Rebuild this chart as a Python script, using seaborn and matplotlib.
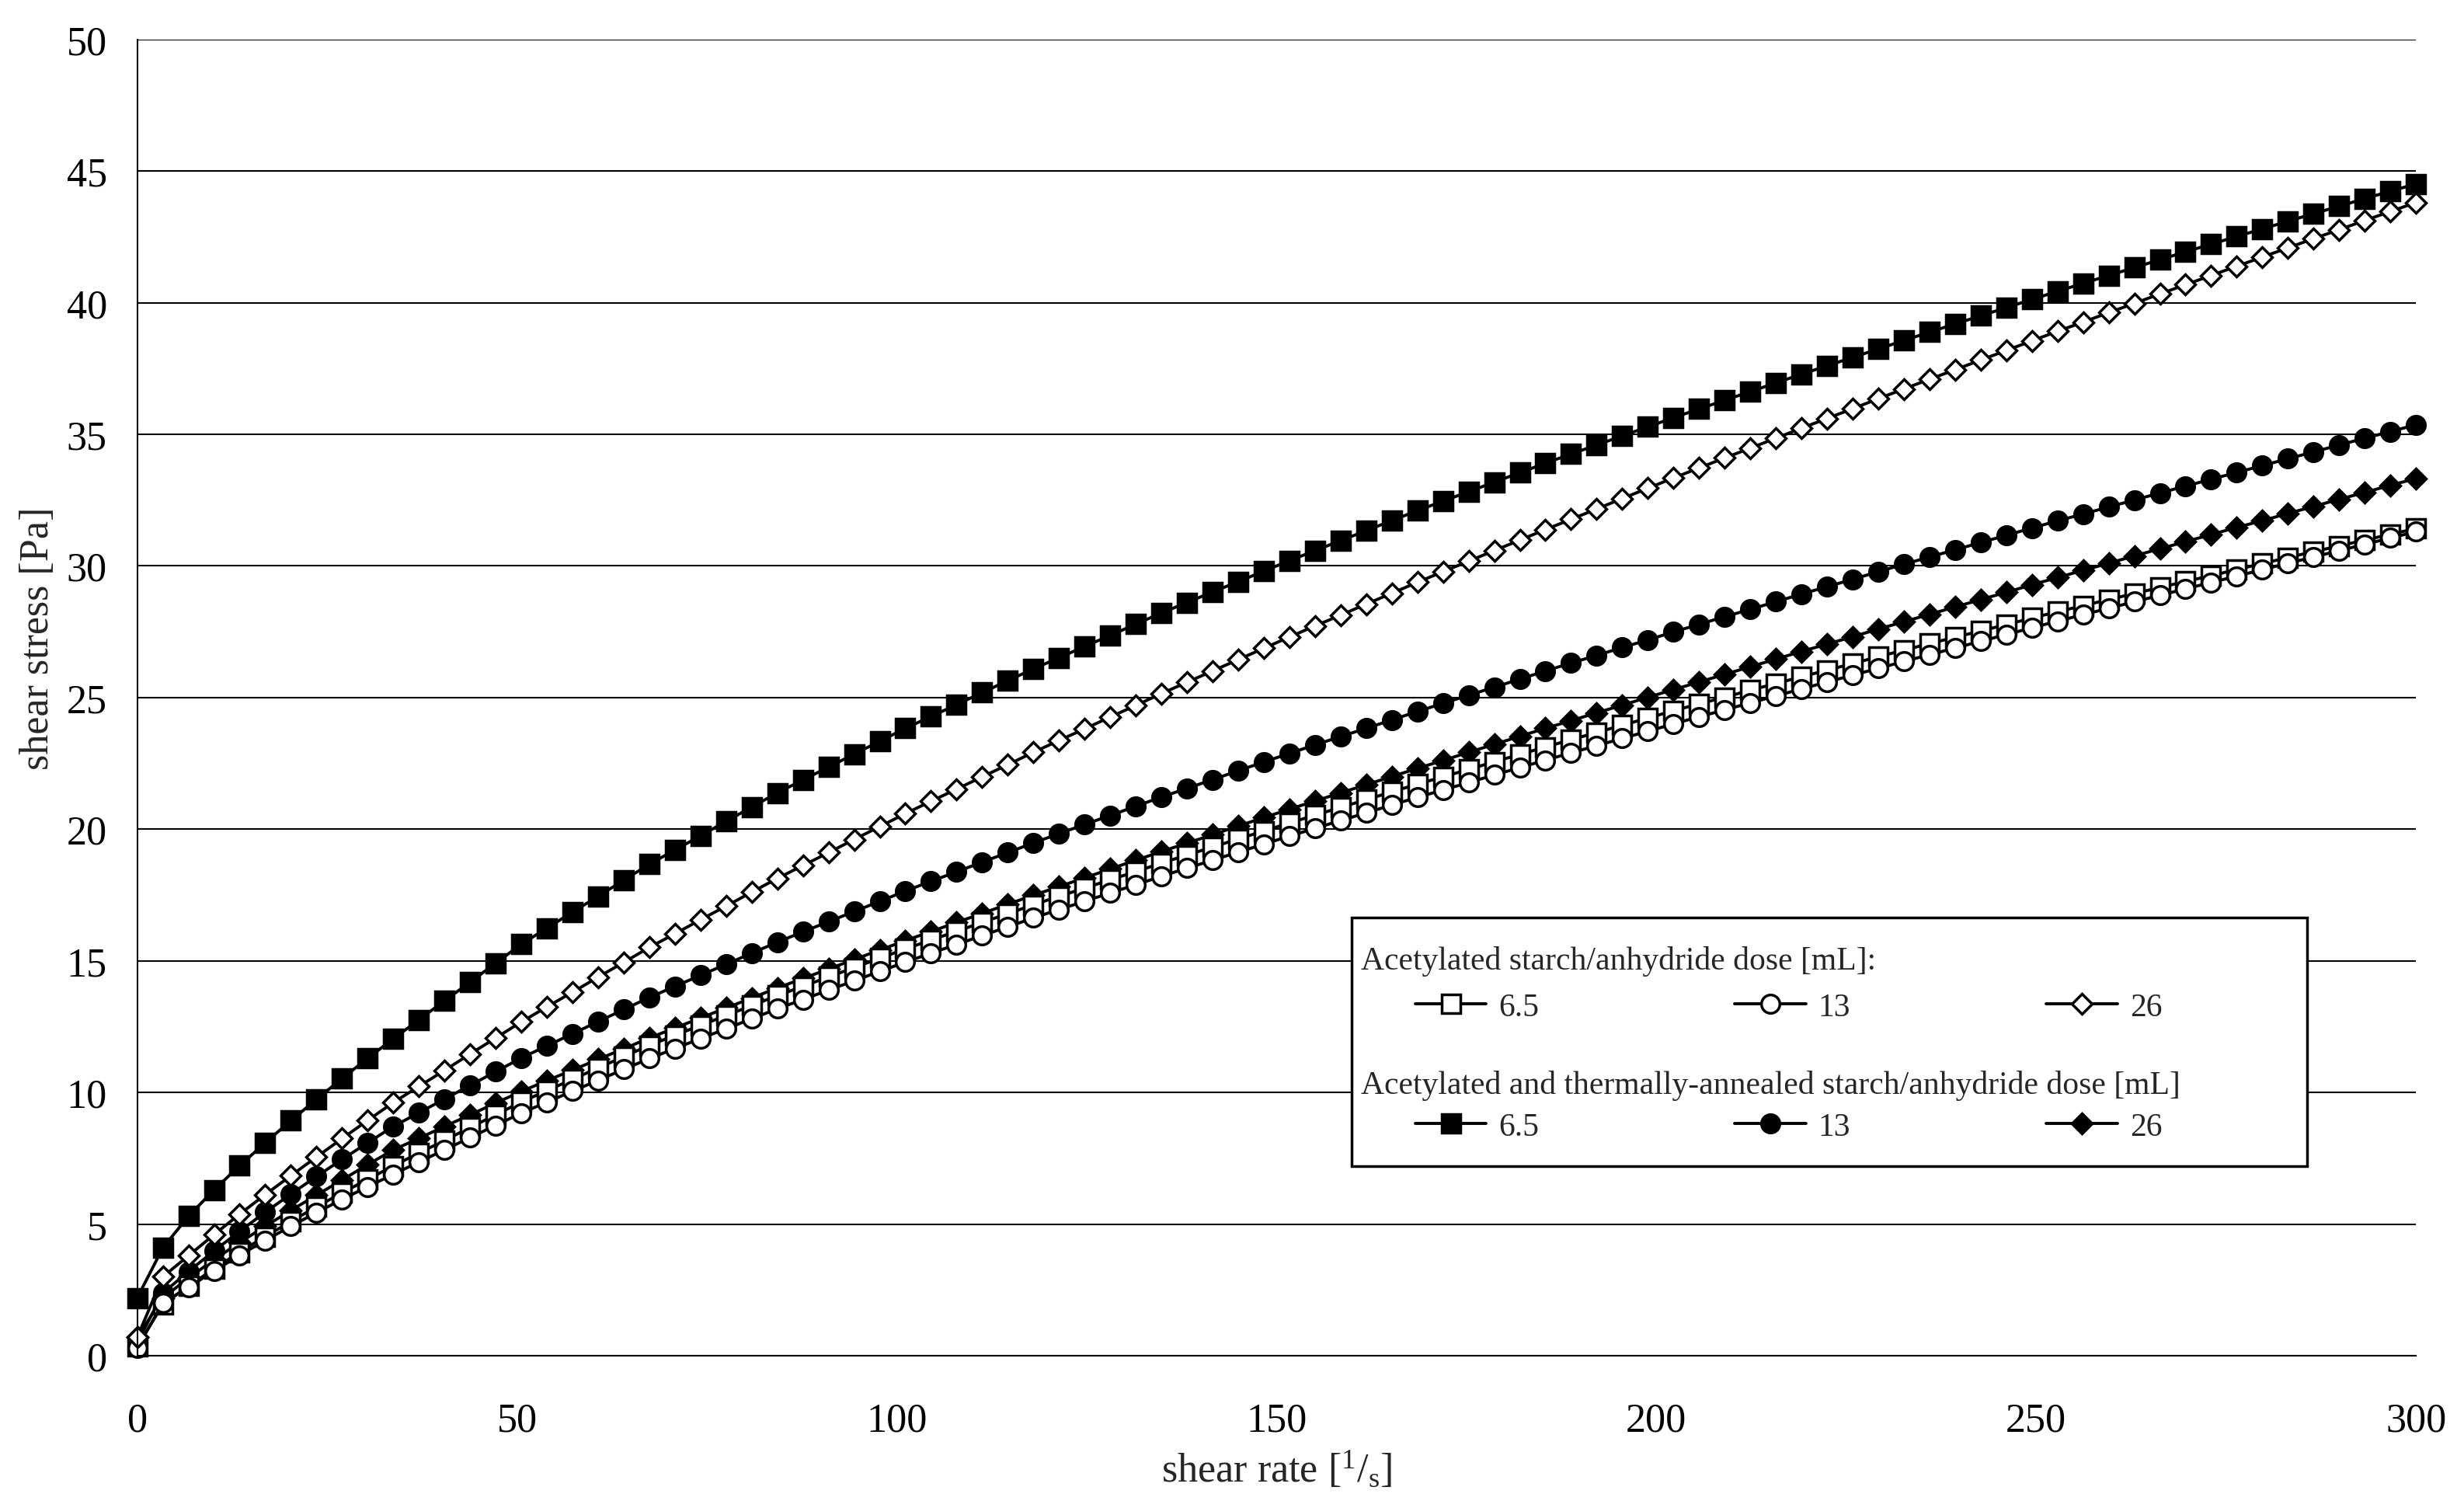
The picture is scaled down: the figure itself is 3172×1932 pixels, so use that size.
import numpy as np
import pandas as pd
import matplotlib
matplotlib.use("Agg")
import matplotlib.pyplot as plt
import seaborn as sns
from matplotlib.patches import Rectangle

# shear rate grid [1/s]
shear_rate = [0.00, 3.37, 6.74, 10.11, 13.48, 16.85, 20.22, 23.60, 26.97, 30.34,
              33.71, 37.08, 40.45, 43.82, 47.19, 50.56, 53.93, 57.30, 60.67, 64.04,
              67.42, 70.79, 74.16, 77.53, 80.90, 84.27, 87.64, 91.01, 94.38, 97.75,
              101.12, 104.49, 107.87, 111.24, 114.61, 117.98, 121.35, 124.72, 128.09, 131.46,
              134.83, 138.20, 141.57, 144.94, 148.31, 151.69, 155.06, 158.43, 161.80, 165.17,
              168.54, 171.91, 175.28, 178.65, 182.02, 185.39, 188.76, 192.13, 195.51, 198.88,
              202.25, 205.62, 208.99, 212.36, 215.73, 219.10, 222.47, 225.84, 229.21, 232.58,
              235.96, 239.33, 242.70, 246.07, 249.44, 252.81, 256.18, 259.55, 262.92, 266.29,
              269.66, 273.03, 276.40, 279.78, 283.15, 286.52, 289.89, 293.26, 296.63, 300.00]

# acetylated starch, anhydride dose 6.5 / 13 / 26 mL
acet_65 = [0.35, 1.95, 2.65, 3.30, 3.94, 4.53, 5.10, 5.66, 6.19, 6.70,
           7.21, 7.70, 8.18, 8.67, 9.15, 9.64, 10.07, 10.50, 10.93, 11.36,
           11.79, 12.17, 12.55, 12.92, 13.30, 13.68, 14.03, 14.39, 14.74, 15.10,
           15.45, 15.79, 16.12, 16.46, 16.79, 17.13, 17.45, 17.76, 18.08, 18.39,
           18.71, 19.02, 19.32, 19.63, 19.93, 20.24, 20.53, 20.83, 21.12, 21.42,
           21.71, 21.99, 22.27, 22.56, 22.84, 23.12, 23.40, 23.67, 23.95, 24.22,
           24.50, 24.76, 25.01, 25.28, 25.53, 25.79, 26.04, 26.29, 26.55, 26.80,
           27.05, 27.29, 27.53, 27.77, 28.02, 28.26, 28.49, 28.72, 28.95, 29.18,
           29.41, 29.63, 29.86, 30.09, 30.32, 30.54, 30.76, 30.98, 31.20, 31.42]
acet_13 = [0.30, 2.00, 2.60, 3.22, 3.82, 4.38, 4.92, 5.44, 5.94, 6.42,
           6.89, 7.36, 7.82, 8.29, 8.75, 9.22, 9.63, 10.05, 10.46, 10.88,
           11.29, 11.67, 12.05, 12.42, 12.80, 13.18, 13.53, 13.89, 14.24, 14.60,
           14.95, 15.29, 15.62, 15.96, 16.29, 16.63, 16.95, 17.26, 17.58, 17.89,
           18.21, 18.52, 18.82, 19.13, 19.43, 19.74, 20.03, 20.33, 20.62, 20.92,
           21.21, 21.49, 21.77, 22.06, 22.34, 22.62, 22.90, 23.17, 23.45, 23.72,
           24.00, 24.27, 24.53, 24.80, 25.06, 25.33, 25.59, 25.85, 26.11, 26.37,
           26.63, 26.88, 27.14, 27.39, 27.65, 27.90, 28.15, 28.39, 28.64, 28.88,
           29.13, 29.37, 29.61, 29.86, 30.10, 30.34, 30.58, 30.82, 31.06, 31.30]
acet_26 = [0.70, 3.00, 3.80, 4.60, 5.38, 6.12, 6.84, 7.55, 8.25, 8.94,
           9.62, 10.23, 10.84, 11.46, 12.07, 12.68, 13.25, 13.81, 14.38, 14.94,
           15.51, 16.03, 16.56, 17.08, 17.61, 18.13, 18.62, 19.11, 19.61, 20.10,
           20.59, 21.06, 21.52, 21.99, 22.45, 22.92, 23.37, 23.81, 24.26, 24.70,
           25.15, 25.58, 26.01, 26.44, 26.87, 27.30, 27.72, 28.13, 28.55, 28.96,
           29.38, 29.78, 30.18, 30.58, 30.98, 31.38, 31.77, 32.16, 32.56, 32.95,
           33.34, 33.72, 34.10, 34.47, 34.85, 35.23, 35.60, 35.97, 36.35, 36.72,
           37.09, 37.45, 37.82, 38.18, 38.55, 38.91, 39.26, 39.62, 39.97, 40.33,
           40.68, 41.03, 41.38, 41.73, 42.08, 42.43, 42.77, 43.12, 43.46, 43.80]

# acetylated and thermally-annealed starch, anhydride dose 6.5 / 13 / 26 mL
ann_65 = [2.20, 4.10, 5.30, 6.30, 7.22, 8.09, 8.93, 9.74, 10.53, 11.30,
          12.04, 12.76, 13.48, 14.19, 14.91, 15.63, 16.24, 16.85, 17.45, 18.06,
          18.67, 19.21, 19.75, 20.30, 20.84, 21.38, 21.87, 22.36, 22.85, 23.34,
          23.83, 24.28, 24.73, 25.19, 25.64, 26.09, 26.51, 26.94, 27.36, 27.79,
          28.21, 28.61, 29.01, 29.40, 29.80, 30.20, 30.58, 30.96, 31.34, 31.72,
          32.10, 32.46, 32.82, 33.18, 33.54, 33.90, 34.25, 34.59, 34.94, 35.28,
          35.63, 35.96, 36.29, 36.62, 36.95, 37.28, 37.60, 37.92, 38.24, 38.56,
          38.88, 39.19, 39.50, 39.81, 40.12, 40.43, 40.73, 41.03, 41.33, 41.63,
          41.93, 42.22, 42.51, 42.80, 43.09, 43.38, 43.66, 43.95, 44.23, 44.51]
ann_13 = [0.50, 2.38, 3.20, 3.98, 4.73, 5.45, 6.14, 6.81, 7.46, 8.09,
          8.71, 9.23, 9.75, 10.27, 10.79, 11.31, 11.77, 12.23, 12.69, 13.15,
          13.61, 14.03, 14.45, 14.87, 15.29, 15.71, 16.10, 16.49, 16.87, 17.26,
          17.65, 18.02, 18.38, 18.75, 19.11, 19.48, 19.83, 20.18, 20.52, 20.87,
          21.22, 21.55, 21.88, 22.22, 22.55, 22.88, 23.20, 23.52, 23.83, 24.15,
          24.47, 24.78, 25.09, 25.39, 25.70, 26.01, 26.31, 26.60, 26.90, 27.19,
          27.49, 27.78, 28.07, 28.35, 28.64, 28.93, 29.21, 29.49, 29.78, 30.06,
          30.34, 30.61, 30.89, 31.16, 31.44, 31.71, 31.97, 32.24, 32.50, 32.77,
          33.03, 33.29, 33.55, 33.81, 34.07, 34.33, 34.59, 34.85, 35.10, 35.36]
ann_26 = [0.70, 2.20, 2.95, 3.65, 4.30, 4.92, 5.52, 6.10, 6.68, 7.26,
          7.82, 8.26, 8.71, 9.15, 9.60, 10.04, 10.45, 10.85, 11.26, 11.66,
          12.07, 12.45, 12.83, 13.21, 13.59, 13.97, 14.33, 14.69, 15.05, 15.41,
          15.77, 16.11, 16.46, 16.80, 17.15, 17.49, 17.82, 18.15, 18.49, 18.82,
          19.15, 19.47, 19.79, 20.12, 20.44, 20.76, 21.07, 21.38, 21.69, 22.00,
          22.31, 22.61, 22.92, 23.22, 23.53, 23.83, 24.12, 24.42, 24.71, 25.01,
          25.30, 25.59, 25.88, 26.17, 26.46, 26.75, 27.03, 27.31, 27.60, 27.88,
          28.16, 28.44, 28.72, 29.00, 29.28, 29.56, 29.83, 30.10, 30.38, 30.65,
          30.92, 31.19, 31.46, 31.72, 31.99, 32.26, 32.53, 32.79, 33.06, 33.32]

dose_labels = ["6.5", "13", "26"]
title_acet = "Acetylated starch/anhydride dose [mL]:"
title_ann = "Acetylated and thermally-annealed starch/anhydride dose [mL]"

dados = pd.DataFrame({"shear_rate": shear_rate,
                      "acet_65": acet_65, "acet_13": acet_13, "acet_26": acet_26,
                      "ann_65": ann_65, "ann_13": ann_13, "ann_26": ann_26})

sns.set_style("white")
plt.rcParams["font.family"] = ["Liberation Serif", "DejaVu Serif"]
plt.rcParams["mathtext.fontset"] = "custom"
plt.rcParams["mathtext.rm"] = "Liberation Serif"
plt.rcParams["mathtext.it"] = "Liberation Serif:italic"

fig = plt.figure(figsize=(31.72, 19.33), dpi=100)
ax = fig.add_axes([0.0557, 0.0967, 0.9248, 0.8766])

# (column, marker, face colour, marker size) in drawing order
estilos = [("ann_65", "s", "black", 17),
           ("ann_13", "o", "black", 17),
           ("ann_26", "D", "black", 13),
           ("acet_65", "s", "white", 17),
           ("acet_13", "o", "white", 17),
           ("acet_26", "D", "white", 13)]

linhas = {}
for coluna, marcador, face, tamanho in estilos:
    sns.lineplot(data=dados, x="shear_rate", y=coluna, ax=ax,
                 estimator=None, sort=False, color="black", linewidth=2.8,
                 marker=marcador, markersize=tamanho, markerfacecolor=face,
                 markeredgecolor="black", markeredgewidth=2.5, clip_on=False)
    linhas[coluna] = ax.lines[-1]

ax.set_xlim(0, 300)
ax.set_ylim(0, 50)
ax.set_xticks(range(0, 301, 50))
ax.set_yticks(range(0, 51, 5))
ax.yaxis.grid(True, color="black", linewidth=1.5)
ax.xaxis.grid(False)
ax.set_axisbelow(True)
for lado in ["top", "right"]:
    ax.spines[lado].set_visible(False)
for lado in ["left", "bottom"]:
    ax.spines[lado].set_color("black")
    ax.spines[lado].set_linewidth(1.5)
ax.tick_params(axis="both", direction="out", length=12, width=1.5,
               color="black", labelsize=37.5, labelcolor="black")
ax.tick_params(axis="x", pad=31)
ax.tick_params(axis="y", pad=16)

ax.set_xlabel(r"shear rate [$^{1}/_{\mathrm{s}}$]", fontsize=37.5, va="baseline")
ax.xaxis.set_label_coords(0.5, -0.0948)
ax.set_ylabel("shear stress [Pa]", fontsize=37.5, va="baseline")
ax.yaxis.set_label_coords(-0.0392, 0.5453)

# legend box drawn by hand: frame, two titles and two rows of entries
moldura = Rectangle((0.5486, 0.2230), 0.3877, 0.1655, transform=fig.transFigure,
                    facecolor="white", edgecolor="black", linewidth=2.5, zorder=3)
fig.add_artist(moldura)
fig.text(0.5524, 0.3542, title_acet, fontsize=30, va="baseline", zorder=4)
fig.text(0.5524, 0.2716, title_ann, fontsize=30, va="baseline", zorder=4)

opcoes = dict(ncol=3, loc="center left", frameon=False, borderpad=0, borderaxespad=0,
              handlelength=2.2, handletextpad=0.38, columnspacing=6.05,
              numpoints=1, prop={"size": 30})
leg1 = fig.legend([linhas["acet_65"], linhas["acet_13"], linhas["acet_26"]], dose_labels,
                  bbox_to_anchor=(0.5743, 0.3287), **opcoes)
leg2 = fig.legend([linhas["ann_65"], linhas["ann_13"], linhas["ann_26"]], dose_labels,
                  bbox_to_anchor=(0.5743, 0.2490), **opcoes)
leg1.set_zorder(5)
leg2.set_zorder(5)

fig.savefig("out.png", dpi=100, facecolor="white")
